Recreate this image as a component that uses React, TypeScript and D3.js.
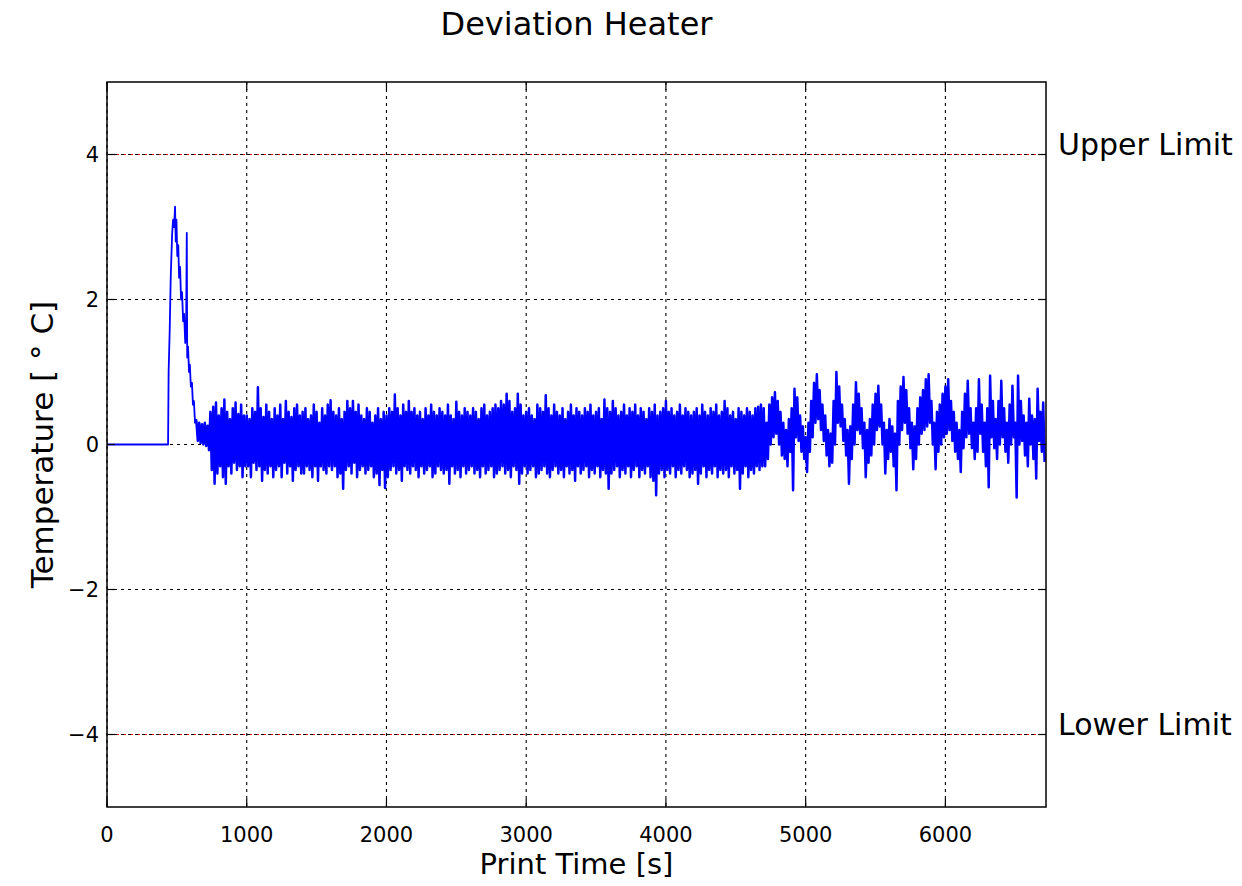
import React from "react";
import * as d3 from "d3";

// ---------- data ----------
const xTicks = [0, 1000, 2000, 3000, 4000, 5000, 6000];
const yTicks = [-4, -2, 0, 2, 4];
const limitLabels = ["Upper Limit", "Lower Limit"];
const limitValues = [4, -4];

// start-up transient (time [s], deviation [°C])
const rampTime = [0, 437, 441, 449, 456, 466, 473, 480, 487, 492, 497, 503, 510, 516, 523, 530, 537, 545, 552, 560, 566, 571, 574, 580, 587, 593, 600, 608, 615, 622, 630, 636];
const rampTemp = [0, 0, 1.0, 1.6, 2.3, 2.9, 3.1, 3.0, 3.28, 2.8, 3.1, 2.6, 2.75, 2.3, 2.45, 2.0, 2.1, 1.7, 1.8, 1.4, 1.55, 2.92, 1.2, 1.35, 1.0, 1.1, 0.8, 0.85, 0.55, 0.6, 0.3, 0.35];

// steady-state noise: per 20 s window, the highest and lowest reading
const noiseStart = 640;
const noiseStep = 20;
const noiseHigh = [
  0.32, 0.30, 0.28, 0.30, 0.26,
  0.45, 0.52, 0.58, 0.40, 0.50, 0.62, 0.45, 0.35, 0.50, 0.58, 0.42, 0.55, 0.40,
  0.40, 0.35, 0.50, 0.45, 0.79, 0.50, 0.38, 0.55, 0.45, 0.35,
  0.50, 0.40, 0.55, 0.35, 0.60, 0.45, 0.38, 0.50, 0.55, 0.40,
  0.45, 0.50, 0.35, 0.40, 0.55, 0.45, 0.30, 0.50, 0.40, 0.55,
  0.61, 0.45, 0.40, 0.50, 0.35, 0.45, 0.60, 0.50, 0.60, 0.45,
  0.55, 0.40, 0.35, 0.50, 0.45, 0.30, 0.40, 0.50, 0.35, 0.45,
  0.40, 0.50, 0.45, 0.69, 0.50, 0.40, 0.55, 0.45, 0.60, 0.45,
  0.50, 0.40, 0.45, 0.35, 0.50, 0.40, 0.55, 0.45, 0.40, 0.50,
  0.45, 0.40, 0.55, 0.40, 0.35, 0.59, 0.45, 0.40, 0.50, 0.45,
  0.40, 0.50, 0.45, 0.35, 0.50, 0.55, 0.40, 0.45, 0.50, 0.55,
  0.50, 0.60, 0.55, 0.70, 0.60, 0.45, 0.50, 0.70, 0.55, 0.40,
  0.45, 0.50, 0.40, 0.35, 0.55, 0.50, 0.45, 0.68, 0.50, 0.40,
  0.55, 0.45, 0.40, 0.50, 0.35, 0.45, 0.55, 0.40, 0.50, 0.45,
  0.40, 0.50, 0.45, 0.55, 0.40, 0.45, 0.50, 0.35, 0.62, 0.50,
  0.45, 0.60, 0.50, 0.40, 0.45, 0.55, 0.40, 0.50, 0.45, 0.55,
  0.40, 0.50, 0.45, 0.35, 0.50, 0.45, 0.55, 0.40, 0.45, 0.50,
  0.60, 0.45, 0.50, 0.40, 0.45, 0.55, 0.40, 0.50, 0.45, 0.40,
  0.45, 0.50, 0.40, 0.55, 0.45, 0.40, 0.50, 0.45, 0.55, 0.40,
  0.45, 0.60, 0.50, 0.40, 0.45, 0.35, 0.50, 0.45, 0.40, 0.50,
  0.45, 0.40, 0.50, 0.52, 0.55,
  // 4700 s onwards: oscillating regime
  0.50, 0.30, 0.55, 0.65, 0.72, 0.60, 0.45, 0.30, 0.20, 0.35,
  0.50, 0.77, 0.65, 0.40, 0.25, 0.10, 0.30, 0.60, 0.85, 0.97,
  0.75, 0.55, 0.40, 0.20, 0.15, 0.60, 1.00, 0.80, 0.55, 0.35,
  0.20, 0.25, 0.55, 0.86, 0.70, 0.50, 0.30, 0.20, 0.35, 0.55,
  0.70, 0.81, 0.55, 0.30, 0.20, 0.35, 0.25, 0.15, 0.60, 0.80,
  0.93, 0.75, 0.50, 0.30, 0.25, 0.50, 0.65, 0.75, 0.90, 0.97,
  0.60, 0.30, 0.45, 0.55, 0.70, 0.80, 0.90, 0.60, 0.45, 0.30,
  0.20, 0.45, 0.70, 0.88, 0.50, 0.30, 0.50, 0.90, 0.55, 0.30,
  0.50, 0.95, 0.60, 0.35, 0.60, 0.88, 0.50, 0.30, 0.55, 0.81,
  0.30, 0.95, 0.60, 0.40, 0.30, 0.63, 0.40, 0.35, 0.77, 0.45,
  0.58,
];
const noiseLow = [
  0.05, 0.02, 0.00, -0.02, -0.08,
  -0.35, -0.54, -0.40, -0.30, -0.45, -0.54, -0.30, -0.40, -0.25, -0.35, -0.30, -0.45, -0.30,
  -0.30, -0.45, -0.25, -0.35, -0.30, -0.50, -0.35, -0.40, -0.30, -0.45,
  -0.35, -0.30, -0.45, -0.25, -0.40, -0.30, -0.50, -0.35, -0.30, -0.40,
  -0.40, -0.30, -0.35, -0.45, -0.30, -0.50, -0.30, -0.35, -0.40, -0.30,
  -0.35, -0.30, -0.45, -0.40, -0.61, -0.35, -0.30, -0.40, -0.25, -0.45,
  -0.35, -0.30, -0.40, -0.35, -0.30, -0.45, -0.40, -0.56, -0.35, -0.60,
  -0.45, -0.35, -0.30, -0.40, -0.35, -0.50, -0.30, -0.35, -0.40, -0.30,
  -0.35, -0.45, -0.30, -0.40, -0.35, -0.30, -0.45, -0.40, -0.30, -0.35,
  -0.40, -0.35, -0.54, -0.30, -0.40, -0.35, -0.45, -0.30, -0.40, -0.35,
  -0.30, -0.40, -0.35, -0.45, -0.30, -0.40, -0.35, -0.30, -0.45, -0.40,
  -0.35, -0.30, -0.40, -0.35, -0.45, -0.30, -0.35, -0.54, -0.40, -0.30,
  -0.40, -0.35, -0.30, -0.45, -0.40, -0.35, -0.30, -0.40, -0.45, -0.35,
  -0.30, -0.40, -0.35, -0.45, -0.30, -0.40, -0.35, -0.50, -0.30, -0.40,
  -0.35, -0.30, -0.45, -0.35, -0.40, -0.30, -0.45, -0.35, -0.40, -0.61,
  -0.40, -0.35, -0.30, -0.45, -0.35, -0.40, -0.30, -0.45, -0.35, -0.30,
  -0.45, -0.35, -0.40, -0.30, -0.45, -0.50, -0.70, -0.40, -0.35, -0.45,
  -0.35, -0.40, -0.30, -0.45, -0.35, -0.40, -0.30, -0.35, -0.45, -0.40,
  -0.35, -0.54, -0.40, -0.30, -0.45, -0.35, -0.40, -0.30, -0.45, -0.35,
  -0.40, -0.35, -0.45, -0.30, -0.40, -0.35, -0.61, -0.40, -0.30, -0.45,
  -0.35, -0.40, -0.30, -0.35, -0.30,
  // 4700 s onwards
  -0.30, -0.20, 0.00, 0.10, 0.15, 0.00, -0.15, -0.20, -0.30, -0.10,
  -0.63, 0.10, 0.05, -0.10, -0.20, -0.38, -0.10, 0.10, 0.30, 0.35,
  0.20, 0.05, -0.15, -0.30, -0.25, 0.00, 0.30, 0.25, 0.05, -0.15,
  -0.54, -0.20, 0.00, 0.20, 0.15, -0.05, -0.45, -0.25, -0.15, 0.00,
  0.20, 0.25, 0.00, -0.40, -0.20, -0.10, -0.30, -0.63, 0.00, 0.20,
  0.30, 0.15, -0.05, -0.34, -0.20, 0.00, 0.15, 0.20, 0.25, 0.30,
  0.00, -0.34, -0.10, 0.00, 0.10, 0.15, 0.20, 0.05, -0.10, -0.20,
  -0.38, -0.05, 0.10, 0.15, -0.05, -0.20, -0.10, 0.15, -0.10, -0.30,
  -0.59, 0.10, -0.05, -0.20, 0.00, 0.10, -0.10, -0.25, 0.00, 0.10,
  -0.73, 0.00, 0.05, -0.15, -0.30, 0.00, -0.20, -0.47, 0.05, -0.10,
  -0.24,
];

const FONT = "'DejaVu Sans', 'Noto Sans', sans-serif";

export default function App() {
  const W = 1242;
  const H = 886;
  const m = { left: 107, right: 1046, top: 82, bottom: 807 };

  const x = d3.scaleLinear().domain([0, 6720]).range([m.left, m.right]);
  const y = d3.scaleLinear().domain([-5, 5]).range([m.bottom, m.top]);

  const rampPts: [number, number][] = rampTime.map((t, i) => [t, rampTemp[i]]);
  const noisePts: [number, number][] = [rampPts[rampPts.length - 1]];
  const n = Math.min(noiseHigh.length, noiseLow.length);
  for (let i = 0; i < n; i++) {
    const t = noiseStart + i * noiseStep;
    noisePts.push([t, noiseHigh[i]]);
    noisePts.push([t + noiseStep / 2, noiseLow[i]]);
  }
  const line = d3
    .line<[number, number]>()
    .x((d) => x(d[0]))
    .y((d) => y(d[1]));

  const tickLen = 8;
  const gridDash = "3,4";

  return (
    <svg
      width={W}
      height={H}
      style={{ position: "absolute", left: 0, top: 0, background: "#fff" }}
      fontFamily={FONT}
    >
      <defs>
        <clipPath id="plotClip">
          <rect x={m.left} y={m.top} width={m.right - m.left} height={m.bottom - m.top} />
        </clipPath>
      </defs>
      <rect x={0} y={0} width={W} height={H} fill="#fff" />

      {/* limit lines */}
      {limitValues.map((v, i) => (
        <line
          key={"lim" + i}
          x1={m.left}
          x2={m.right}
          y1={y(v)}
          y2={y(v)}
          stroke="#ff0000"
          strokeWidth={1.2}
          strokeDasharray="5,2"
        />
      ))}

      {/* grid */}
      {xTicks.map((t) => (
        <line
          key={"gx" + t}
          x1={x(t)}
          x2={x(t)}
          y1={m.top}
          y2={m.bottom}
          stroke="#000"
          strokeWidth={1.1}
          strokeDasharray={gridDash}
        />
      ))}
      {yTicks.map((t) => (
        <line
          key={"gy" + t}
          x1={m.left}
          x2={m.right}
          y1={y(t)}
          y2={y(t)}
          stroke="#000"
          strokeWidth={1.1}
          strokeDasharray={gridDash}
        />
      ))}

      {/* data */}
      <g clipPath="url(#plotClip)">
        <path
          d={line(rampPts) || ""}
          fill="none"
          stroke="#0000ff"
          strokeWidth={1.8}
          strokeLinejoin="round"
        />
        <path
          d={line(noisePts) || ""}
          fill="none"
          stroke="#0000ff"
          strokeWidth={2.5}
          strokeLinejoin="round"
        />
      </g>

      {/* frame */}
      <rect
        x={m.left}
        y={m.top}
        width={m.right - m.left}
        height={m.bottom - m.top}
        fill="none"
        stroke="#000"
        strokeWidth={1.5}
      />

      {/* ticks (inward, all four sides) */}
      {xTicks.map((t) => (
        <g key={"tx" + t}>
          <line x1={x(t)} x2={x(t)} y1={m.bottom} y2={m.bottom - tickLen} stroke="#000" strokeWidth={1.2} />
          <line x1={x(t)} x2={x(t)} y1={m.top} y2={m.top + tickLen} stroke="#000" strokeWidth={1.2} />
          <text x={x(t)} y={842} textAnchor="middle" fontSize={21} fill="#000">
            {t}
          </text>
        </g>
      ))}
      {yTicks.map((t) => (
        <g key={"ty" + t}>
          <line x1={m.left} x2={m.left + tickLen} y1={y(t)} y2={y(t)} stroke="#000" strokeWidth={1.2} />
          <line x1={m.right} x2={m.right - tickLen} y1={y(t)} y2={y(t)} stroke="#000" strokeWidth={1.2} />
          <text x={99} y={y(t) + 7.5} textAnchor="end" fontSize={21} fill="#000">
            {t < 0 ? "\u2212" + Math.abs(t) : String(t)}
          </text>
        </g>
      ))}

      {/* limit labels */}
      {limitValues.map((v, i) => (
        <text key={"ll" + i} x={1058} y={y(v)} fontSize={30} fill="#000">
          {limitLabels[i]}
        </text>
      ))}

      {/* title and axis labels */}
      <text x={(m.left + m.right) / 2} y={35} textAnchor="middle" fontSize={32} fill="#000">
        Deviation Heater
      </text>
      <text x={(m.left + m.right) / 2} y={874} textAnchor="middle" fontSize={29} fill="#000">
        Print Time [s]
      </text>
      <text
        transform={`translate(53, ${(m.top + m.bottom) / 2}) rotate(-90)`}
        textAnchor="middle"
        fontSize={31}
        fill="#000"
      >
        Temperature [ ° C]
      </text>
    </svg>
  );
}
